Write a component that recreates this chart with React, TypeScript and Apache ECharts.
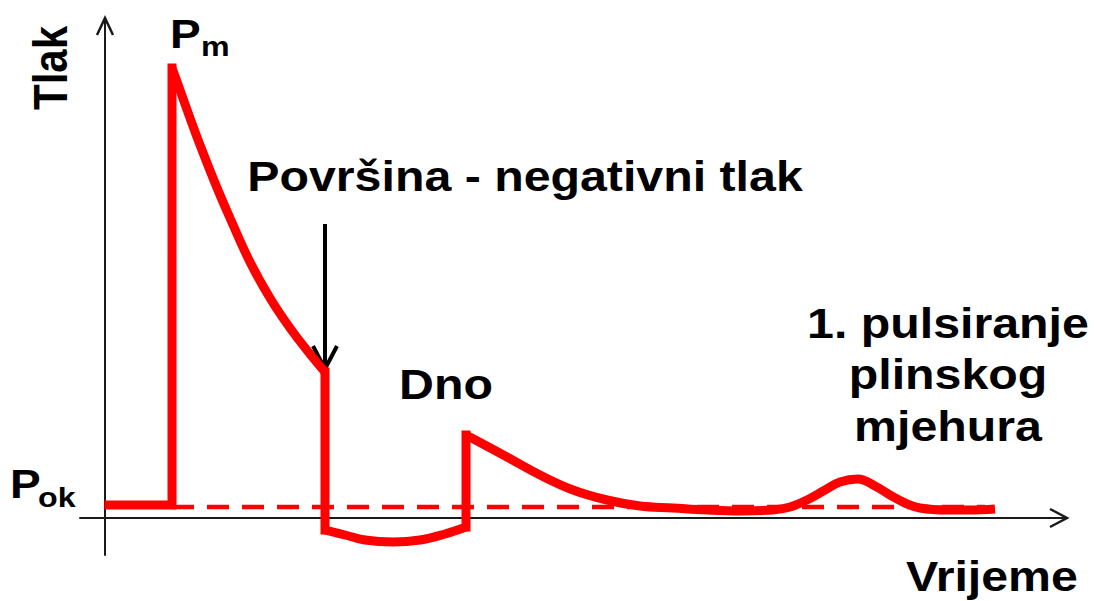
import React, { useEffect, useRef } from "react";
import * as echarts from "echarts";

// Pressure-time curve of an underwater explosion
// Shock front: from ambient level straight up to the peak P_m
const shockX = [0.4, 6.7, 6.7];
const shockY = [1.3, 1.3, 45];
// Decay of the shock wave until the surface reflection arrives
const decayX = [6.7, 7.5, 8.5, 9.5, 11, 12.5, 14.5, 16.5, 18.5, 20.5, 22];
const decayY = [45, 42.8, 40, 37.3, 33.5, 30, 25.6, 22, 19, 16.4, 14.6];
// Surface reflection: sudden drop below ambient
const dropX = [22, 22];
const dropY = [14.6, -1.2];
// Negative pressure phase
const negX = [22, 24, 26, 28.8, 31.5, 34, 36.1];
const negY = [-1.2, -1.7, -2.2, -2.4, -2.2, -1.6, -0.9];
// Bottom reflection: sudden jump
const bottomX = [36.1, 36.1];
const bottomY = [-0.9, 8.3];
// Decay after bottom reflection and first bubble pulse
const tailX = [36.1, 40.2, 43.5, 46.8, 50.2, 53.5, 56.8, 60.2, 63.5, 66.8, 68.5, 70.2, 72, 73.5, 75.3, 77, 78.5, 80, 81.5, 84.2, 86.5, 89];
const tailY = [8.3, 6.1, 4.3, 2.8, 1.8, 1.2, 1.0, 0.8, 0.7, 0.8, 1.1, 1.8, 2.8, 3.6, 3.9, 3.2, 2.3, 1.5, 1.0, 0.8, 0.8, 0.9];
// Ambient pressure P_ok (dashed reference level)
const ambientX = [6.7, 88];
const ambientY = [1.1, 1.1];
// Point where the arrow "Površina" points
const surfacePoint = [22, 14.6];

const labelFont = '"Liberation Sans", Arial, sans-serif';
const RED = "#ff0000";
const LW = 9;

const pairs = (xs: number[], ys: number[]) => xs.map((x, i) => [x, ys[i]]);

export default function App() {
  const ref = useRef<HTMLDivElement>(null);
  useEffect(() => {
    if (!ref.current) return;
    const chart = echarts.init(ref.current, undefined, { renderer: "svg" });
    const axisLine = { onZero: true, lineStyle: { color: "#1a1a1a", width: 2 } };
    const straight = (xs: number[], ys: number[]) => ({
      type: "line",
      data: pairs(xs, ys),
      showSymbol: false,
      lineStyle: { color: RED, width: LW, cap: "square", join: "miter", miterLimit: 4 },
      z: 3,
    });
    const curved = (xs: number[], ys: number[]) => ({
      type: "line",
      data: pairs(xs, ys),
      showSymbol: false,
      smooth: 0.4,
      lineStyle: { color: RED, width: LW, cap: "butt", join: "round" },
      z: 3,
    });
    chart.setOption({
      animation: false,
      grid: { left: 80, right: 27, top: 18, bottom: 46 },
      xAxis: {
        type: "value", min: -2.5, max: 96.2,
        axisLine, axisTick: { show: false }, axisLabel: { show: false }, splitLine: { show: false },
      },
      yAxis: {
        type: "value", min: -3.7, max: 50,
        axisLine, axisTick: { show: false }, axisLabel: { show: false }, splitLine: { show: false },
      },
      series: [
        {
          type: "line",
          data: pairs(ambientX, ambientY),
          showSymbol: false,
          lineStyle: { color: RED, width: 4.5, type: [22, 13], cap: "butt" },
          z: 2,
        },
        straight(shockX, shockY),
        curved(decayX, decayY),
        straight(dropX, dropY),
        curved(negX, negY),
        straight(bottomX, bottomY),
        {
          ...curved(tailX, tailY),
          lineStyle: { color: RED, width: LW, cap: "butt", join: "round" },
        },
      ],
    });

    const p = (x: number, y: number) => chart.convertToPixel({ gridIndex: 0 }, [x, y]) as number[];
    const origin = p(0, 0);
    const xEnd = p(96.2, 0);
    const yEnd = p(0, 50);
    const tip = p(surfacePoint[0], surfacePoint[1]);
    const ax = tip[0];
    const ay = tip[1] - 3;

    const txt = (text: string, x: number, y: number, size: number, align = "center", extra: any = {}) => ({
      type: "text",
      x, y,
      scaleX: 1.15,
      ...extra,
      style: {
        text,
        fill: "#000",
        fontSize: size,
        fontWeight: "bold",
        fontFamily: labelFont,
        textAlign: align,
        align,
        textVerticalAlign: "middle",
        verticalAlign: "middle",
      },
      z: 10,
    });

    chart.setOption({
      graphic: [
        // axis arrow heads
        {
          type: "polyline",
          shape: { points: [[xEnd[0] - 17, origin[1] - 9], [xEnd[0], origin[1]], [xEnd[0] - 17, origin[1] + 9]] },
          style: { stroke: "#1a1a1a", lineWidth: 2.5, fill: "none" },
        },
        {
          type: "polyline",
          shape: { points: [[origin[0] - 8, yEnd[1] + 17], [origin[0], yEnd[1]], [origin[0] + 8, yEnd[1] + 17]] },
          style: { stroke: "#1a1a1a", lineWidth: 2.5, fill: "none" },
        },
        // annotation arrow
        {
          type: "line",
          shape: { x1: ax, y1: 224, x2: ax, y2: ay - 3 },
          style: { stroke: "#000", lineWidth: 4 },
        },
        {
          type: "polyline",
          shape: { points: [[ax - 12, ay - 23], [ax, ay], [ax + 12, ay - 23]] },
          style: { stroke: "#000", lineWidth: 4, fill: "none" },
        },
        txt("Tlak", 50, 68, 42, "center", { rotation: Math.PI / 2, scaleX: 1, scaleY: 1.15 }),
        txt("P", 170, 34, 40, "left"),
        txt("m", 201, 46, 28, "left"),
        txt("Površina - negativni tlak", 525, 177, 42),
        txt("Dno", 446, 385, 42),
        txt("1. pulsiranje", 948, 324, 42),
        txt("plinskog", 948, 375, 42),
        txt("mjehura", 948, 427, 42),
        txt("P", 10, 484, 40, "left"),
        txt("ok", 38, 497, 28, "left"),
        txt("Vrijeme", 992, 577, 42),
      ],
    });
    return () => chart.dispose();
  }, []);
  return <div ref={ref} style={{ width: 1094, height: 601, position: "absolute", left: 0, top: 0 }} />;
}
